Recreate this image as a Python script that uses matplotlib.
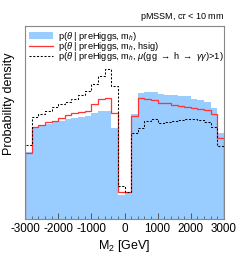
import numpy as np
import matplotlib
matplotlib.use('Agg')
import matplotlib.pyplot as plt
from matplotlib.patches import Patch
from matplotlib.lines import Line2D

plt.rcParams['font.family'] = ['Liberation Sans', 'DejaVu Sans']
plt.rcParams['mathtext.fontset'] = 'custom'
plt.rcParams['mathtext.rm'] = 'Liberation Sans'
plt.rcParams['mathtext.it'] = 'Liberation Sans:italic'
plt.rcParams['axes.unicode_minus'] = False

# M2 binning: 30 bins of 200 GeV
edges = np.arange(-3000, 3001, 200)

# p(theta | preHiggs, m_h)
blue = [0.349, 0.473, 0.482, 0.492, 0.501, 0.508, 0.518, 0.523, 0.527, 0.534,
        0.548, 0.560, 0.561, 0.472, 0.124, 0.135, 0.544, 0.651, 0.656, 0.656,
        0.646, 0.642, 0.642, 0.637, 0.637, 0.622, 0.617, 0.605, 0.577, 0.444]

# p(theta | preHiggs, m_h, hsig)
red = [0.342, 0.479, 0.487, 0.500, 0.508, 0.521, 0.539, 0.549, 0.552, 0.561,
       0.594, 0.622, 0.625, 0.551, 0.141, 0.141, 0.534, 0.625, 0.622, 0.617,
       0.599, 0.599, 0.591, 0.587, 0.582, 0.574, 0.570, 0.565, 0.542, 0.418]

# p(theta | preHiggs, m_h, mu(gg->h->gamgam)>1)
dashed = [0.383, 0.531, 0.544, 0.562, 0.580, 0.596, 0.606, 0.624, 0.645, 0.661,
          0.699, 0.741, 0.775, 0.689, 0.171, 0.140, 0.446, 0.472, 0.508, 0.518,
          0.497, 0.501, 0.509, 0.513, 0.518, 0.518, 0.513, 0.504, 0.478, 0.378]

labels = [r'p($\theta$ | preHiggs, m$_h$)',
          r'p($\theta$ | preHiggs, m$_h$, hsig)',
          r'p($\theta$ | preHiggs, m$_h$, $\mu$(gg $\rightarrow$ h $\rightarrow$ $\gamma\gamma$)>1)']

dash_style = (0, (2.0, 1.6))

fig = plt.figure(figsize=(2.49, 2.57), dpi=100)
ax = fig.add_axes([0.1004, 0.1479, 0.7992, 0.7509])

ax.stairs(blue, edges, fill=True, color='#99ccff', lw=0)
ax.stairs(red, edges, color='#ff3333', lw=0.9)
ax.stairs(dashed, edges, color='black', lw=0.75, linestyle=dash_style)

ax.set_xlim(-3000, 3000)
ax.set_ylim(0, 1)
ax.set_xticks([-3000, -2000, -1000, 0, 1000, 2000, 3000])
ax.set_xticks(np.arange(-3000, 3001, 200), minor=True)
ax.set_yticks([])
ax.tick_params(axis='x', which='major', direction='in', length=4.5, width=0.6,
               labelsize=8.4, pad=3, color='#444444')
ax.tick_params(axis='x', which='minor', direction='in', length=2.2, width=0.5,
               color='#444444')
for s in ax.spines.values():
    s.set_color('#888888')
    s.set_linewidth(0.8)

ax.set_xlabel(r'M$_2$ [GeV]', fontsize=9, labelpad=2)
ax.set_ylabel('Probability density', fontsize=9)
ax.yaxis.set_label_coords(-0.05, 0.596)

ax.text(1.0, 1.015, r'pMSSM, c$\tau$ < 10 mm', transform=ax.transAxes,
        ha='right', va='bottom', fontsize=6.5)

handles = [Patch(facecolor='#99ccff', edgecolor='none'),
           Line2D([], [], color='#ff3333', lw=0.9),
           Line2D([], [], color='black', lw=0.75, linestyle=dash_style)]
ax.legend(handles, labels, loc='upper left', bbox_to_anchor=(0.02, 0.98),
          frameon=False, fontsize=6.7, borderpad=0, borderaxespad=0,
          handlelength=2.6, handleheight=0.8, handletextpad=0.55,
          labelspacing=-0.3)

fig.savefig('out.png', dpi=100)
